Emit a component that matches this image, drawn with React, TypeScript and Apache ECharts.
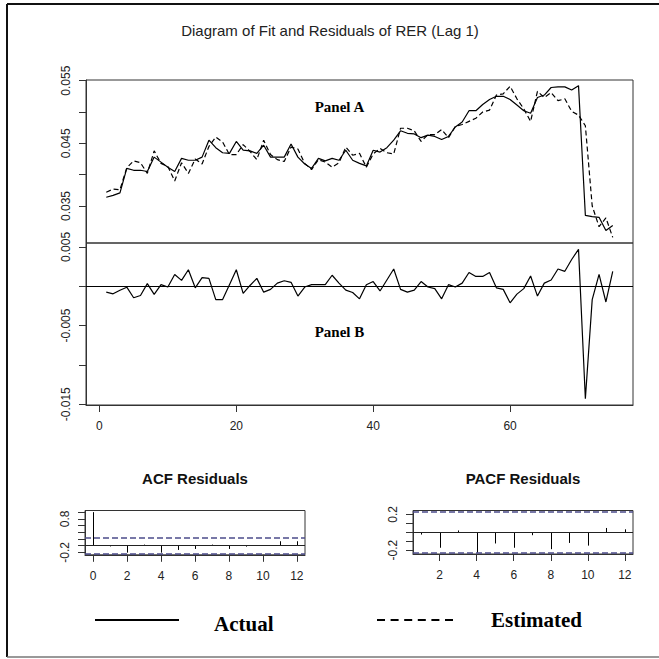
import React, { useEffect, useRef } from "react";
import * as echarts from "echarts";

// ---- Data ----
const actual = [
  0.0364, 0.0367, 0.0371, 0.041, 0.0407, 0.0407, 0.0405, 0.0428, 0.042, 0.0412,
  0.0405, 0.0426, 0.0423, 0.0423, 0.0428, 0.0455, 0.0443, 0.0435, 0.0434, 0.0453,
  0.0439, 0.0438, 0.0434, 0.0447, 0.0428, 0.0428, 0.0428, 0.0449, 0.0428, 0.0417,
  0.041, 0.0426, 0.0422, 0.0426, 0.0423, 0.0439, 0.0423, 0.0418, 0.0414, 0.0439,
  0.0436, 0.0443, 0.0455, 0.047, 0.0466, 0.0465, 0.0459, 0.0463, 0.0461, 0.0456,
  0.0461, 0.0476, 0.0484, 0.0502, 0.0502, 0.0512, 0.052, 0.0525, 0.0525, 0.052,
  0.0511, 0.0502, 0.0498, 0.0523, 0.0527, 0.0539, 0.054, 0.054, 0.0535, 0.0542,
  0.0335, 0.0333, 0.0332, 0.0311, 0.0319,
];

const estimated = [
  0.0372, 0.0377, 0.0376, 0.0411, 0.0422, 0.0419, 0.0402, 0.0438, 0.0418, 0.0413,
  0.039, 0.0419, 0.0402, 0.0425, 0.0417, 0.0445, 0.046, 0.0452, 0.0432, 0.0432,
  0.0448, 0.0437, 0.0424, 0.0455, 0.0432, 0.0424, 0.0421, 0.0444, 0.0441, 0.0418,
  0.0408, 0.0424, 0.042, 0.0412, 0.0419, 0.0444, 0.0431, 0.0434, 0.0412, 0.0433,
  0.0442, 0.0435, 0.0433, 0.0474, 0.0474, 0.047, 0.0453, 0.0464, 0.0464, 0.0472,
  0.0459, 0.0477, 0.048, 0.0485, 0.049, 0.05, 0.0503, 0.0527, 0.0529, 0.0541,
  0.0521, 0.0505, 0.0485, 0.0533, 0.0523, 0.0531, 0.0518, 0.0521, 0.0501, 0.0495,
  0.0478, 0.035, 0.0317, 0.0331, 0.03,
];

const residuals = [
  -0.00075, -0.00096, -0.0005, -0.00012, -0.00146, -0.00117, 0.00033, -0.00104, 0.0002, -0.0001,
  0.0015, 0.00075, 0.0021, -0.0002, 0.0011, 0.001, -0.0017, -0.0017, 0.0002, 0.0021,
  -0.0009, 0.0001, 0.001, -0.00075, -0.0004, 0.0004, 0.0007, 0.0005, -0.00125, -0.0001,
  0.0002, 0.0002, 0.0002, 0.0014, 0.0004, -0.0005, -0.0008, -0.0016, 0.0002, 0.0006,
  -0.0006, 0.0008, 0.0022, -0.0004, -0.00075, -0.0005, 0.0006, -0.0001, -0.0003, -0.0016,
  0.0002, -0.0001, 0.0004, 0.00175, 0.00125, 0.00125, 0.00175, -0.0002, -0.0004, -0.0021,
  -0.001, -0.0003, 0.0013, -0.00125, 0.0004, 0.0008, 0.0022, 0.0019, 0.0034, 0.0047,
  -0.0143, -0.0017, 0.0015, -0.002, 0.0019,
];

const acfLags = [0, 1, 2, 3, 4, 5, 6, 7, 8, 9, 10, 11, 12];
const acfValues = [1, -0.025, -0.21, 0.03, -0.21, -0.13, -0.1, 0.03, -0.1, -0.03, -0.01, 0.13, 0.13];

const pacfLags = [1, 2, 3, 4, 5, 6, 7, 8, 9, 10, 11, 12];
const pacfValues = [-0.026, -0.174, 0.02, -0.23, -0.126, -0.174, -0.033, -0.19, -0.12, -0.15, 0.048, 0.033];

const confLimit = 0.226;

const mainXTicks = [0, 20, 40, 60];
const panelATicks = [0.035, 0.04, 0.045, 0.05, 0.055];
const panelALabels = [0.035, 0.045, 0.055];
const panelBTicks = [-0.015, -0.01, -0.005, 0, 0.005];
const panelBLabels = [-0.015, -0.005, 0.005];
const acfXTicks = [0, 2, 4, 6, 8, 10, 12];
const acfYTicks = [-0.2, 0, 0.2, 0.4, 0.6, 0.8, 1.0];
const acfYLabels = [-0.2, 0.8];
const pacfXTicks = [2, 4, 6, 8, 10, 12];
const pacfYTicks = [-0.2, -0.1, 0, 0.1, 0.2];
const pacfYLabels = [-0.2, 0.2];

const SANS = '"Liberation Sans", Arial, Helvetica, sans-serif';
const SERIF = '"Liberation Serif", "Times New Roman", serif';
const AXIS_COLOR = "#333";
const LABEL_COLOR = "#222";

function xAxisCfg(gridIndex: number, min: number, max: number, ticks: number[] | null) {
  if (!ticks) {
    return { type: "value", gridIndex, min, max, show: false, splitLine: { show: false } };
  }
  return {
    type: "value",
    gridIndex,
    min,
    max,
    axisLine: { show: true, onZero: false, lineStyle: { color: AXIS_COLOR, width: 1 } },
    axisTick: { show: true, length: 7, customValues: ticks, lineStyle: { color: AXIS_COLOR, width: 1 } },
    axisLabel: {
      show: true,
      customValues: ticks,
      margin: 15,
      fontSize: 12,
      fontFamily: SANS,
      color: LABEL_COLOR,
      formatter: (v: number) => String(v),
    },
    splitLine: { show: false },
  };
}

function yAxisCfg(
  gridIndex: number,
  min: number,
  max: number,
  ticks: number[],
  labels: number[],
  digits: number
) {
  return {
    type: "value",
    gridIndex,
    min,
    max,
    axisLine: { show: true, onZero: false, lineStyle: { color: AXIS_COLOR, width: 1 } },
    axisTick: { show: true, length: 7, customValues: ticks, lineStyle: { color: AXIS_COLOR, width: 1 } },
    axisLabel: {
      show: true,
      customValues: labels,
      rotate: 90,
      margin: 14,
      fontSize: 12,
      fontFamily: SANS,
      color: LABEL_COLOR,
      formatter: (v: number) => v.toFixed(digits),
    },
    splitLine: { show: false },
  };
}

const stickRender = (params: any, api: any) => {
  const p0 = api.coord([api.value(0), 0]);
  const p1 = api.coord([api.value(0), api.value(1)]);
  const x = Math.round(p0[0]) + 0.5;
  return {
    type: "line",
    shape: { x1: x, y1: p0[1], x2: x, y2: p1[1] },
    style: { stroke: "#000", lineWidth: 1 },
  };
};

const refLines = (withZero: boolean) => ({
  silent: true,
  symbol: ["none", "none"],
  label: { show: false },
  data: [
    ...(withZero ? [{ yAxis: 0, lineStyle: { color: "#222", type: "solid", width: 1 } }] : []),
    { yAxis: confLimit, lineStyle: { color: "#4c4c8a", type: [6, 3], width: 1.6 } },
    { yAxis: -confLimit, lineStyle: { color: "#4c4c8a", type: [6, 3], width: 1.6 } },
  ],
});

export default function App() {
  const ref = useRef<HTMLDivElement>(null);

  useEffect(() => {
    if (!ref.current) return;
    const chart = echarts.init(ref.current, null, { renderer: "svg" });

    const gridBase = { show: true, borderColor: AXIS_COLOR, borderWidth: 1, backgroundColor: "transparent" };

    const option: any = {
      animation: false,
      backgroundColor: "#fff",
      grid: [
        { ...gridBase, left: 86, top: 80, width: 547, height: 163 },
        { ...gridBase, left: 86, top: 243, width: 547, height: 162 },
        { ...gridBase, left: 85, top: 510.5, width: 220, height: 44.3 },
        { ...gridBase, left: 413, top: 510.5, width: 220, height: 43.5 },
      ],
      xAxis: [
        xAxisCfg(0, -1.96, 77.96, null),
        xAxisCfg(1, -1.96, 77.96, mainXTicks),
        xAxisCfg(2, -0.48, 12.48, acfXTicks),
        xAxisCfg(3, 0.56, 12.44, pacfXTicks),
      ],
      yAxis: [
        yAxisCfg(0, 0.0291, 0.0551, panelATicks, panelALabels, 3),
        yAxisCfg(1, -0.0151, 0.0055, panelBTicks, panelBLabels, 3),
        yAxisCfg(2, -0.275, 1.049, acfYTicks, acfYLabels, 1),
        yAxisCfg(3, -0.244, 0.244, pacfYTicks, pacfYLabels, 1),
      ],
      series: [
        {
          name: "Actual",
          type: "line",
          xAxisIndex: 0,
          yAxisIndex: 0,
          showSymbol: false,
          data: actual.map((v, i) => [i + 1, v]),
          lineStyle: { color: "#000", width: 1.2 },
        },
        {
          name: "Estimated",
          type: "line",
          xAxisIndex: 0,
          yAxisIndex: 0,
          showSymbol: false,
          data: estimated.map((v, i) => [i + 1, v]),
          lineStyle: { color: "#000", width: 1.2, type: [5, 3] },
        },
        {
          name: "Residuals",
          type: "line",
          xAxisIndex: 1,
          yAxisIndex: 1,
          showSymbol: false,
          data: residuals.map((v, i) => [i + 1, v]),
          lineStyle: { color: "#000", width: 1.2 },
          markLine: {
            silent: true,
            symbol: ["none", "none"],
            label: { show: false },
            data: [{ yAxis: 0 }],
            lineStyle: { color: "#000", type: "solid", width: 1.2 },
          },
        },
        {
          name: "ACF",
          type: "custom",
          xAxisIndex: 2,
          yAxisIndex: 2,
          renderItem: stickRender,
          data: acfLags.map((l, i) => [l, acfValues[i]]),
          markLine: refLines(true),
        },
        {
          name: "PACF",
          type: "custom",
          xAxisIndex: 3,
          yAxisIndex: 3,
          renderItem: stickRender,
          data: pacfLags.map((l, i) => [l, pacfValues[i]]),
          markLine: refLines(true),
        },
      ],
      graphic: [
        // outer frame
        { type: "line", shape: { x1: 7, y1: 4, x2: 659, y2: 4 }, style: { stroke: "#111", lineWidth: 2 } },
        { type: "line", shape: { x1: 7, y1: 4, x2: 7, y2: 657 }, style: { stroke: "#111", lineWidth: 2 } },
        { type: "line", shape: { x1: 7, y1: 657, x2: 659, y2: 657 }, style: { stroke: "#777", lineWidth: 1.5 } },
        {
          type: "text",
          x: 330,
          y: 30,
          style: {
            text: "Diagram of Fit and Residuals of RER (Lag 1)",
            align: "center",
            verticalAlign: "middle",
            fontSize: 15,
            fontFamily: SANS,
            fill: "#222",
          },
        },
        {
          type: "text",
          x: 339.5,
          y: 106.7,
          style: {
            text: "Panel A",
            align: "center",
            verticalAlign: "middle",
            fontSize: 15,
            fontWeight: "bold",
            fontFamily: SERIF,
            fill: "#000",
          },
        },
        {
          type: "text",
          x: 339.5,
          y: 331.7,
          style: {
            text: "Panel B",
            align: "center",
            verticalAlign: "middle",
            fontSize: 15,
            fontWeight: "bold",
            fontFamily: SERIF,
            fill: "#000",
          },
        },
        {
          type: "text",
          x: 195,
          y: 478,
          style: {
            text: "ACF Residuals",
            align: "center",
            verticalAlign: "middle",
            fontSize: 15,
            fontWeight: "bold",
            fontFamily: SANS,
            fill: "#111",
          },
        },
        {
          type: "text",
          x: 523,
          y: 478,
          style: {
            text: "PACF Residuals",
            align: "center",
            verticalAlign: "middle",
            fontSize: 15,
            fontWeight: "bold",
            fontFamily: SANS,
            fill: "#111",
          },
        },
        // legend
        { type: "line", shape: { x1: 95, y1: 620, x2: 179, y2: 620 }, style: { stroke: "#000", lineWidth: 2 } },
        {
          type: "text",
          x: 214,
          y: 624,
          style: {
            text: "Actual",
            align: "left",
            verticalAlign: "middle",
            fontSize: 21,
            fontWeight: "bold",
            fontFamily: SERIF,
            fill: "#000",
          },
        },
        {
          type: "line",
          shape: { x1: 377, y1: 620, x2: 456, y2: 620 },
          style: { stroke: "#000", lineWidth: 2, lineDash: [8, 5.6] },
        },
        {
          type: "text",
          x: 491,
          y: 620,
          style: {
            text: "Estimated",
            align: "left",
            verticalAlign: "middle",
            fontSize: 21,
            fontWeight: "bold",
            fontFamily: SERIF,
            fill: "#000",
          },
        },
      ],
    };

    chart.setOption(option);
    return () => {
      chart.dispose();
    };
  }, []);

  return (
    <div
      ref={ref}
      style={{ position: "absolute", left: 0, top: 0, width: 659, height: 659, background: "#fff" }}
    />
  );
}
